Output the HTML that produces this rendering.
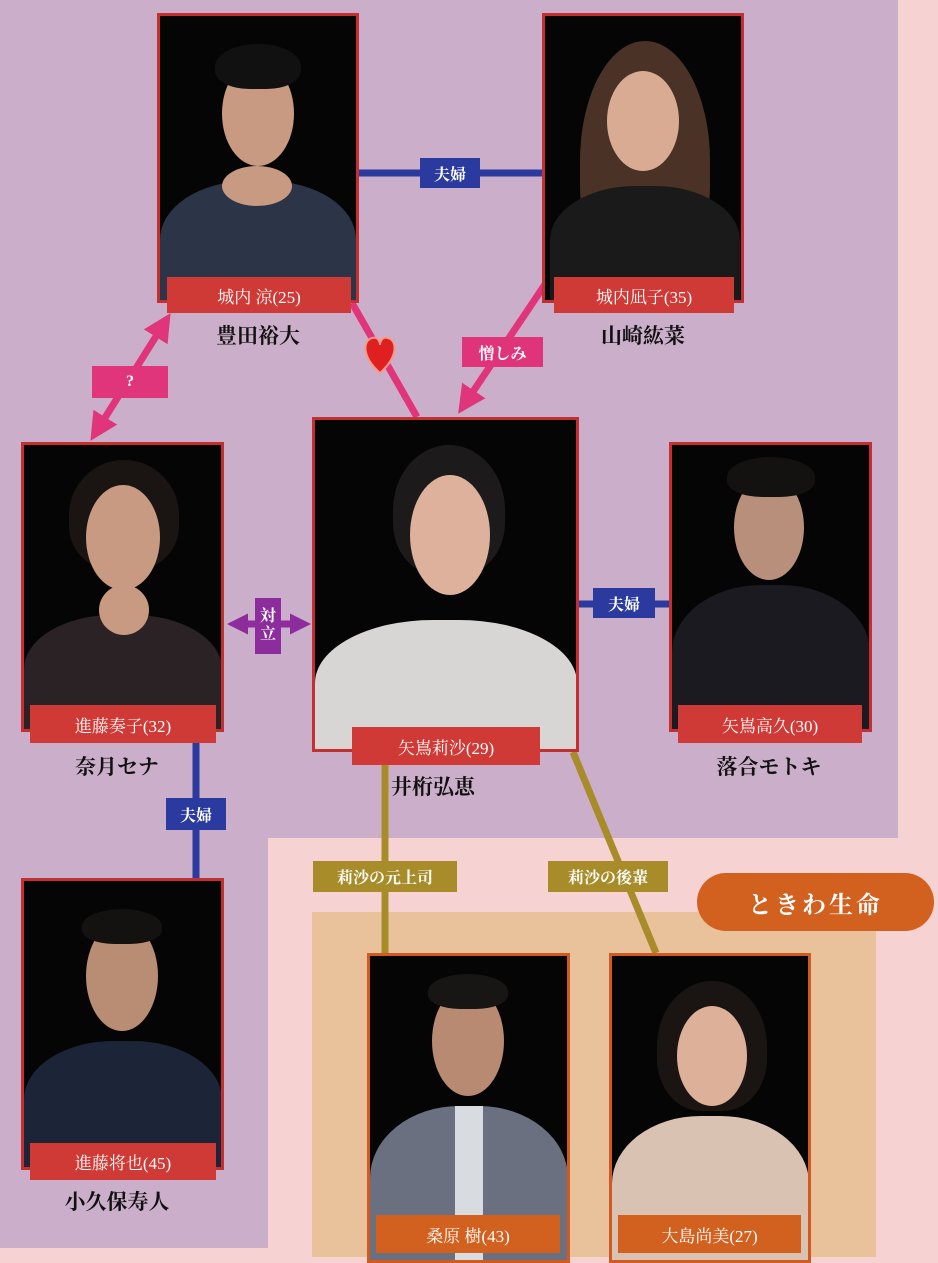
<!DOCTYPE html><html><head><meta charset="utf-8"><style>
body{margin:0;width:938px;height:1257px;position:relative;overflow:hidden;background:#f6d3d2;font-family:"Liberation Serif","Noto Serif CJK SC",serif}
div{position:absolute;box-sizing:border-box}
.ph{background:#050505;border:3px solid #c4302f;overflow:hidden}
.or{border-color:#cf5a22}
.lb{background:#d03a36;color:#fff;font-size:17px;display:flex;align-items:center;justify-content:center}
.lo{background:#d2601f}
.nm{font-size:21px;font-weight:bold;color:#111;text-align:center;width:200px}
.tg{color:#fff;font-size:16px;font-weight:bold;display:flex;align-items:center;justify-content:center}
.f{border-radius:50%;background:#c99a82}
.h{border-radius:50% 50% 40% 40%}
.b{border-radius:45% 45% 0 0}
svg{position:absolute;left:0;top:0}
</style></head><body>
<div style="left:0;top:0;width:898px;height:838px;background:#cbaec9"></div>
<div style="left:0;top:838px;width:268px;height:410px;background:#cbaec9"></div>
<div style="left:312px;top:912px;width:564px;height:345px;background:#e9c29c"></div>
<svg width="938" height="1257">
<defs>
<marker id="ap" markerWidth="4" markerHeight="4" refX="2.5" refY="2" orient="auto-start-reverse"><path d="M0,0L4,2L0,4z" fill="#e0357a"/></marker>
<marker id="av" markerWidth="3" markerHeight="3" refX="2" refY="1.5" orient="auto-start-reverse"><path d="M0,0L3,1.5L0,3z" fill="#8d2c9c"/></marker>
</defs>
<g stroke-width="7" fill="none">
<line x1="359" y1="173" x2="542" y2="173" stroke="#2a3a9e"/>
<line x1="579" y1="604" x2="669" y2="604" stroke="#2a3a9e"/>
<line x1="196" y1="743" x2="196" y2="878" stroke="#2a3a9e"/>
<line x1="352" y1="303" x2="417" y2="417" stroke="#e0357a"/>
<line x1="548" y1="280" x2="464" y2="405" stroke="#e0357a" marker-end="url(#ap)"/>
<line x1="165" y1="322" x2="96" y2="432" stroke="#e0357a" marker-start="url(#ap)" marker-end="url(#ap)"/>
<line x1="234" y1="624" x2="304" y2="624" stroke="#8d2c9c" marker-start="url(#av)" marker-end="url(#av)"/>
<line x1="385" y1="765" x2="385" y2="953" stroke="#a88c2a"/>
<line x1="573" y1="752" x2="656" y2="953" stroke="#a88c2a"/>
</g>
<path d="M380,373 C360,355 364,340 372,338 C378,336 380,342 380,345 C380,342 382,336 388,338 C396,340 400,355 380,373z" fill="#e02020" stroke="#f59a8a" stroke-width="2"/>
</svg>
<div class="tg" style="left:420px;top:158px;width:60px;height:30px;background:#2a3a9e">夫婦</div>
<div class="tg" style="left:462px;top:337px;width:81px;height:30px;background:#df337a">憎しみ</div>
<div class="tg" style="left:92px;top:366px;width:76px;height:32px;background:#e0357a">?</div>
<div class="tg" style="left:255px;top:598px;width:26px;height:56px;background:#8d2c9c;line-height:18px;text-align:center">対<br>立</div>
<div class="tg" style="left:593px;top:588px;width:62px;height:30px;background:#2a3a9e">夫婦</div>
<div class="tg" style="left:166px;top:798px;width:60px;height:32px;background:#2a3a9e">夫婦</div>
<div class="tg" style="left:313px;top:861px;width:144px;height:31px;background:#a88c2a">莉沙の元上司</div>
<div class="tg" style="left:548px;top:861px;width:120px;height:31px;background:#a88c2a">莉沙の後輩</div>
<div class="tg" style="left:697px;top:873px;width:237px;height:58px;background:#d2601f;border-radius:29px;font-size:24px;letter-spacing:3px">ときわ生命</div>

<!-- photos -->
<div class="ph" style="left:157px;top:13px;width:202px;height:290px">
 <div class="b" style="left:0;top:165px;width:196px;height:130px;background:#2c3448"></div>
 <div class="f" style="left:62px;top:150px;width:70px;height:40px"></div>
 <div class="f" style="left:62px;top:45px;width:72px;height:105px"></div>
 <div class="h" style="left:55px;top:28px;width:86px;height:45px;background:#111"></div>
</div>
<div class="lb" style="left:167px;top:277px;width:184px;height:36px">城内 涼(25)</div>
<div class="nm" style="left:158px;top:320px">豊田裕大</div>

<div class="ph" style="left:542px;top:13px;width:202px;height:290px">
 <div class="h" style="left:35px;top:25px;width:130px;height:240px;background:#4a3226"></div>
 <div class="b" style="left:5px;top:170px;width:190px;height:120px;background:#1a1a1a"></div>
 <div class="f" style="left:62px;top:55px;width:72px;height:100px;background:#d8ab92"></div>
</div>
<div class="lb" style="left:554px;top:277px;width:180px;height:36px">城内凪子(35)</div>
<div class="nm" style="left:543px;top:320px">山崎紘菜</div>

<div class="ph" style="left:312px;top:417px;width:267px;height:335px">
 <div class="h" style="left:78px;top:25px;width:112px;height:130px;background:#1c1a1a"></div>
 <div class="b" style="left:0;top:200px;width:262px;height:140px;background:#d8d6d4"></div>
 <div class="f" style="left:95px;top:55px;width:80px;height:120px;background:#ddb19c"></div>
</div>
<div class="lb" style="left:352px;top:727px;width:188px;height:38px">矢嶌莉沙(29)</div>
<div class="nm" style="left:333px;top:771px">井桁弘恵</div>

<div class="ph" style="left:21px;top:442px;width:203px;height:290px">
 <div class="b" style="left:0;top:170px;width:198px;height:120px;background:#2a2224"></div>
 <div class="f" style="left:75px;top:140px;width:50px;height:50px"></div>
 <div class="h" style="left:45px;top:15px;width:110px;height:110px;background:#1a1512"></div>
 <div class="f" style="left:62px;top:40px;width:74px;height:105px"></div>
</div>
<div class="lb" style="left:30px;top:705px;width:186px;height:38px">進藤奏子(32)</div>
<div class="nm" style="left:17px;top:751px">奈月セナ</div>

<div class="ph" style="left:669px;top:442px;width:203px;height:290px">
 <div class="b" style="left:0;top:140px;width:198px;height:150px;background:#1a1a20"></div>
 <div class="f" style="left:62px;top:30px;width:70px;height:105px;background:#b88f7a"></div>
 <div class="h" style="left:55px;top:12px;width:88px;height:40px;background:#141210"></div>
</div>
<div class="lb" style="left:678px;top:705px;width:184px;height:38px">矢嶌高久(30)</div>
<div class="nm" style="left:669px;top:751px">落合モトキ</div>

<div class="ph" style="left:21px;top:878px;width:203px;height:292px">
 <div class="b" style="left:0;top:160px;width:198px;height:130px;background:#1c2438"></div>
 <div class="f" style="left:62px;top:40px;width:72px;height:110px;background:#b98c74"></div>
 <div class="h" style="left:58px;top:28px;width:80px;height:35px;background:#141210"></div>
</div>
<div class="lb" style="left:30px;top:1143px;width:186px;height:37px">進藤将也(45)</div>
<div class="nm" style="left:17px;top:1186px">小久保寿人</div>

<div class="ph or" style="left:367px;top:953px;width:203px;height:310px">
 <div class="b" style="left:0;top:150px;width:198px;height:160px;background:#6a7080"></div>
 <div style="left:85px;top:150px;width:28px;height:160px;background:#d8dce0"></div>
 <div class="f" style="left:62px;top:30px;width:72px;height:110px;background:#b88a72"></div>
 <div class="h" style="left:58px;top:18px;width:80px;height:35px;background:#181614"></div>
</div>
<div class="lb lo" style="left:376px;top:1215px;width:184px;height:38px">桑原 樹(43)</div>

<div class="ph or" style="left:609px;top:953px;width:202px;height:310px">
 <div class="h" style="left:45px;top:25px;width:110px;height:130px;background:#1a1512"></div>
 <div class="b" style="left:0;top:160px;width:197px;height:150px;background:#d9c2b2"></div>
 <div class="f" style="left:65px;top:50px;width:70px;height:100px;background:#ddb09a"></div>
</div>
<div class="lb lo" style="left:618px;top:1215px;width:183px;height:38px">大島尚美(27)</div>
</body></html>
